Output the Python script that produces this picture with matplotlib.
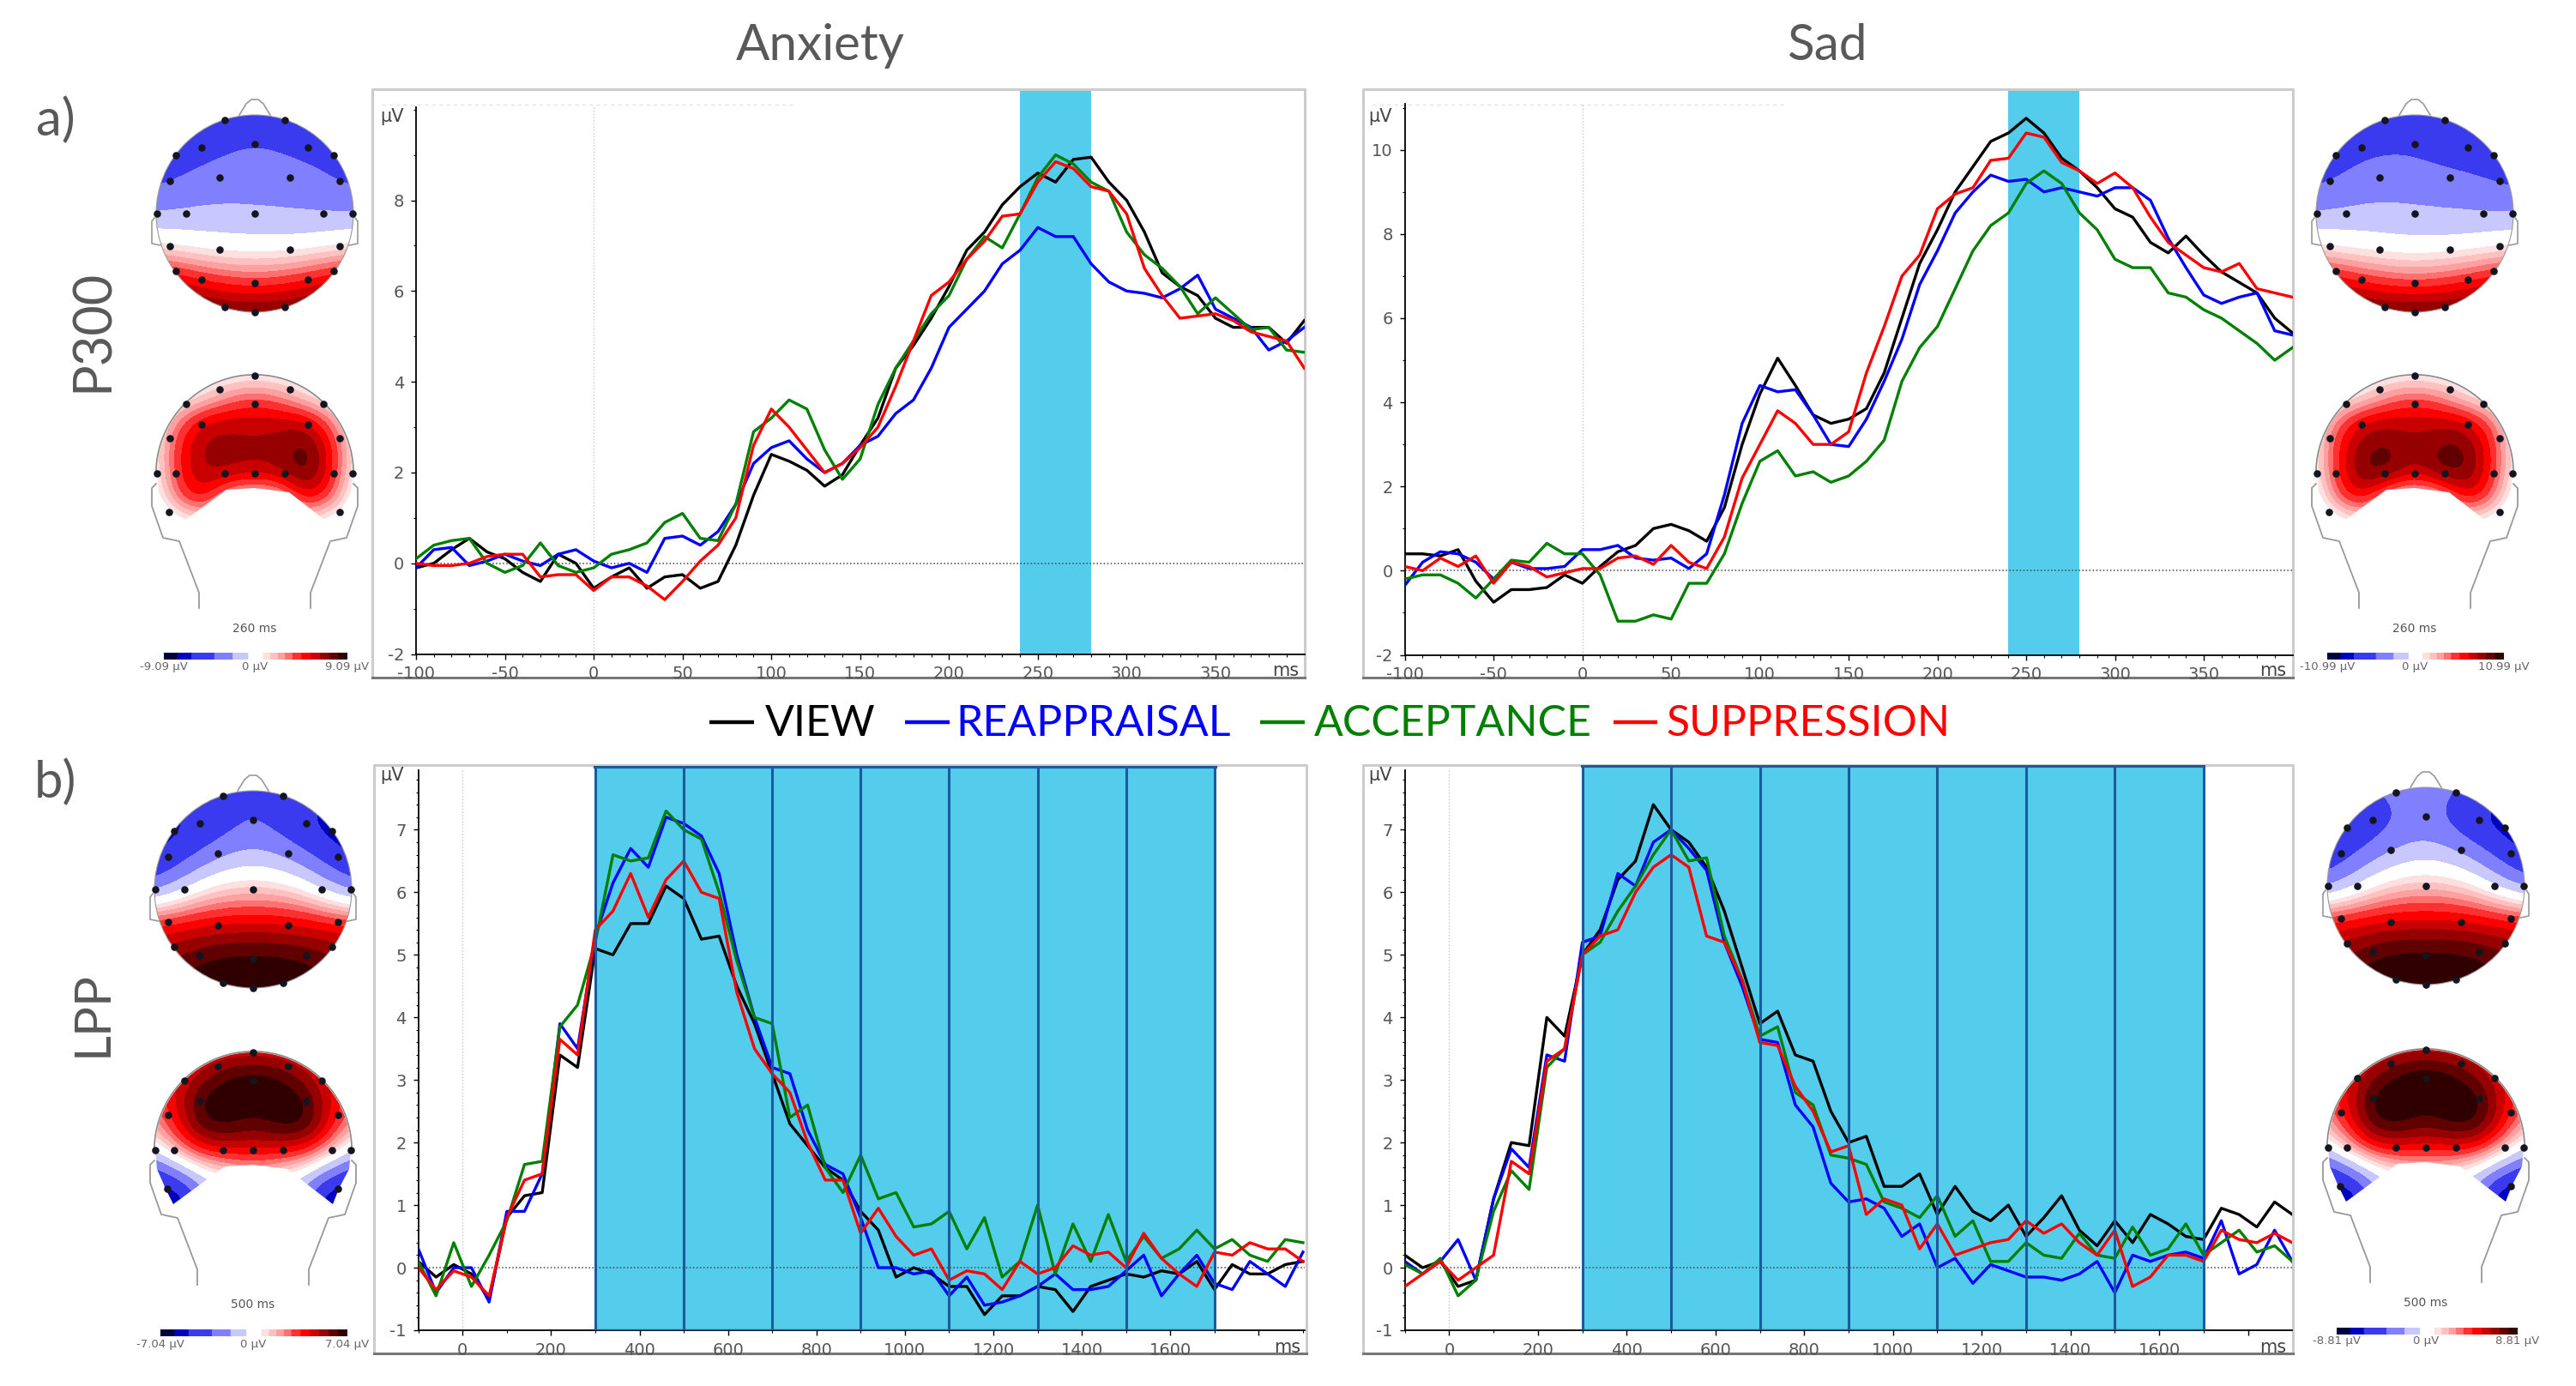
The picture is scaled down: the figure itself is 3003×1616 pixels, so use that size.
import matplotlib
matplotlib.use("Agg")
import matplotlib.pyplot as plt
from matplotlib import patches
from matplotlib.colors import ListedColormap, BoundaryNorm
import numpy as np

W, H = 3003, 1616
plt.rcParams['font.family'] = ['Lato', 'DejaVu Sans']
plt.rcParams['axes.unicode_minus'] = False

# --- data ---
SERIES_COLORS = ["black", "#0000ff", "#008000", "#ff0000"]
SERIES_NAMES = ["VIEW", "REAPPRAISAL", "ACCEPTANCE", "SUPPRESSION"]
SHADE = "#54cdec"
SHADE_EDGE = "#1c5a9c"

t_p300 = list(range(-100, 401, 10))
t_lpp = list(range(-100, 1901, 40))

anx_view = [-.1,0,.3,.55,.25,.1,-.2,-.4,.2,0,-.55,-.3,-.1,-.55,-.3,-.25,-.55,-.4,.4,1.5,2.4,2.25,2.05,1.7,1.95,2.6,3.2,4.3,4.8,5.4,6.1,6.9,7.3,7.9,8.3,8.6,8.4,8.9,8.95,8.4,8.0,7.3,6.4,6.1,5.9,5.4,5.2,5.2,5.2,4.85,5.35]
anx_reap = [-.1,.3,.35,-.05,.05,.2,.05,-.05,.2,.3,.05,-.1,0,-.2,.55,.6,.4,.7,1.3,2.2,2.55,2.7,2.3,2.0,2.2,2.6,2.8,3.3,3.6,4.3,5.2,5.6,6.0,6.6,6.9,7.4,7.2,7.2,6.6,6.2,6.0,5.95,5.85,6.05,6.35,5.6,5.4,5.2,4.7,4.9,5.2]
anx_acc = [.1,.4,.5,.55,0,-.2,-.05,.45,-.05,-.2,-.1,.2,.3,.45,.9,1.1,.55,.5,1.3,2.9,3.2,3.6,3.4,2.5,1.85,2.3,3.5,4.3,4.9,5.5,5.9,6.7,7.2,6.95,7.7,8.5,9.0,8.8,8.4,8.2,7.3,6.8,6.5,6.1,5.5,5.85,5.5,5.15,5.2,4.7,4.65]
anx_sup = [0,-.05,-.05,0,.15,.2,.2,-.3,-.25,-.25,-.6,-.3,-.3,-.5,-.8,-.4,.05,.4,1.0,2.6,3.4,3.0,2.5,2.0,2.2,2.55,3.0,3.9,4.9,5.9,6.2,6.7,7.1,7.65,7.7,8.4,8.85,8.7,8.3,8.2,7.7,6.5,5.9,5.4,5.45,5.5,5.35,5.1,5.0,4.9,4.3]

sad_view = [.4,.4,.35,.5,-.25,-.75,-.45,-.45,-.4,-.1,-.3,.1,.45,.6,1.0,1.1,.95,.7,1.5,3.0,4.2,5.05,4.4,3.7,3.5,3.6,3.85,4.7,6.0,7.3,8.1,9.0,9.6,10.2,10.4,10.75,10.4,9.8,9.5,9.1,8.6,8.4,7.8,7.55,7.95,7.5,7.1,6.85,6.6,6.0,5.65]
sad_reap = [-.35,.2,.45,.4,.2,-.2,.2,.05,.05,.1,.5,.5,.6,.3,.25,.3,.05,.4,1.8,3.5,4.4,4.25,4.3,3.7,3.0,2.95,3.6,4.5,5.5,6.8,7.6,8.5,9.0,9.4,9.25,9.3,9.0,9.1,9.0,8.9,9.1,9.1,8.8,7.9,7.2,6.55,6.35,6.5,6.6,5.7,5.6]
sad_acc = [-.2,-.1,-.1,-.3,-.65,-.2,.25,.2,.65,.4,.4,-.1,-1.2,-1.2,-1.05,-1.15,-.3,-.3,.4,1.6,2.6,2.85,2.25,2.35,2.1,2.25,2.6,3.1,4.5,5.3,5.8,6.7,7.6,8.2,8.5,9.2,9.5,9.2,8.5,8.1,7.4,7.2,7.2,6.6,6.5,6.2,6.0,5.7,5.4,5.0,5.3]
sad_sup = [.1,0,.3,.1,.35,-.3,.2,.1,-.15,-.05,.05,.05,.3,.35,.15,.6,.2,.05,.8,2.2,3.0,3.8,3.5,3.0,3.0,3.3,4.7,5.8,7.0,7.5,8.6,8.95,9.1,9.75,9.8,10.4,10.3,9.7,9.5,9.2,9.45,9.1,8.4,7.8,7.5,7.2,7.1,7.3,6.7,6.6,6.5]

lpp_anx_view = [.1,-.15,.05,-.1,-.5,.8,1.15,1.2,3.4,3.2,5.1,5.0,5.5,5.5,6.1,5.9,5.25,5.3,4.5,3.9,3.1,2.3,1.95,1.6,1.4,.9,.6,-.15,0,-.1,-.3,-.3,-.75,-.45,-.45,-.3,-.35,-.7,-.3,-.2,-.1,-.15,-.05,-.1,.1,-.35,.05,-.1,-.1,.05,.1]
lpp_anx_reap = [.3,-.4,0,0,-.55,.9,.9,1.5,3.9,3.5,5.3,6.15,6.7,6.4,7.2,7.1,6.9,6.3,5.0,4.0,3.2,3.1,2.2,1.65,1.5,.8,0,0,-.1,-.05,-.45,-.15,-.6,-.55,-.45,-.3,-.1,-.35,-.35,-.3,-.05,.2,-.45,-.1,.2,-.25,-.35,.1,-.1,-.3,.25]
lpp_anx_acc = [.1,-.45,.4,-.3,.2,.75,1.65,1.7,3.85,4.2,5.2,6.6,6.5,6.55,7.3,7.0,6.85,6.0,4.9,4.0,3.9,2.4,2.6,1.6,1.2,1.8,1.1,1.2,.65,.7,.9,.3,.8,-.15,.1,1.0,-.1,.7,.1,.85,.1,.5,.15,.3,.6,.3,.45,.2,.1,.45,.4]
lpp_anx_sup = [0,-.35,-.05,-.15,-.45,.8,1.4,1.5,3.65,3.4,5.4,5.7,6.3,5.6,6.2,6.5,6.0,5.9,4.4,3.5,3.1,2.8,2.0,1.4,1.4,.55,.95,.5,.2,.3,-.2,-.05,-.1,-.35,.1,-.1,0,.35,.2,.25,0,.55,.15,-.1,-.3,.25,.2,.4,.3,.3,.1]

lpp_sad_view = [.2,0,.1,-.3,-.2,1.1,2.0,1.95,4.0,3.7,5.0,5.4,6.2,6.5,7.4,7.0,6.8,6.4,5.7,4.8,3.9,4.1,3.4,3.3,2.5,2.0,2.1,1.3,1.3,1.5,.85,1.3,.9,.75,1.0,.5,.8,1.15,.6,.35,.75,.4,.85,.7,.5,.45,.95,.85,.65,1.05,.85]
lpp_sad_reap = [.1,-.1,.1,.45,-.2,1.1,1.9,1.6,3.4,3.3,5.2,5.3,6.3,6.1,6.8,7.0,6.7,6.35,5.2,4.5,3.65,3.6,2.6,2.25,1.35,1.05,1.1,.95,.5,.7,0,.15,-.25,.05,-.05,-.15,-.15,-.2,-.1,.1,-.4,.2,.1,.2,.25,.15,.75,-.1,.05,.6,.1]
lpp_sad_acc = [.05,-.1,.15,-.45,-.2,.9,1.55,1.25,3.2,3.5,5.0,5.2,5.7,6.1,6.6,7.0,6.5,6.55,5.3,4.6,3.7,3.85,2.8,2.6,1.8,1.75,1.65,1.05,.95,.8,1.15,.5,.75,.1,.1,.4,.2,.15,.55,.2,.15,.65,.2,.3,.7,.2,.4,.6,.25,.35,.1]
lpp_sad_sup = [-.3,-.1,.1,-.2,0,.2,1.7,1.5,3.3,3.5,5.0,5.3,5.4,6.0,6.4,6.6,6.4,5.3,5.2,4.6,3.6,3.55,2.9,2.5,1.85,1.95,.85,1.1,1.0,.3,.7,.2,.3,.4,.45,.75,.55,.7,.4,.2,.6,-.3,-.15,.2,.2,.1,.6,.45,.4,.55,.4]

p300_window = (240, 280)
lpp_edges = [300, 500, 700, 900, 1100, 1300, 1500, 1700]

p300_xticks = [-100, -50, 0, 50, 100, 150, 200, 250, 300, 350]
lpp_xticks = [0, 200, 400, 600, 800, 1000, 1200, 1400, 1600]

# scalp values, scaled to the colour bar (-1 .. 1), front to back
top_a1 = [[-.55,-.55,-.55,-.55,-.55],[-.55,-.55,-.42,-.55,-.55],[-.55,-.36,-.3,-.33,-.55],[-.24,-.2,-.25,-.26,-.24],[.1,0,0,0,.1],[.7,.48,.36,.48,.7],[.95,.9,.85,.9,.95]]
top_a2 = [[-.55,-.55,-.55,-.6,-.6],[-.55,-.5,-.48,-.72,-.6],[-.55,-.36,-.3,-.33,-.55],[-.24,-.18,-.25,-.26,-.24],[.08,0,-.02,0,.08],[.65,.45,.33,.45,.65],[.95,.9,.88,.9,.95]]
top_b1 = [[-.6,-.5,-.42,-.55,-.75],[-.85,-.72,-.38,-.72,-.9],[-.8,-.35,-.12,-.35,-.8],[-.4,.12,.2,.12,-.4],[.5,.58,.6,.58,.5],[.7,.92,.95,.92,.75],[.9,1,1,1,.9]]
top_b2 = [[-.6,-.4,-.3,-.5,-.7],[-.85,-.6,-.3,-.75,-.92],[-.7,-.3,-.1,-.3,-.8],[-.4,.12,.22,.12,-.4],[.5,.58,.6,.58,.5],[.7,.92,.95,.92,.75],[.9,1,1,1,.9]]
back_a1 = [[0,0,0,0,0,0,0,0,0],[0,0,.1,.3,.4,.3,.1,0,0],[0,.35,.65,.68,.68,.68,.68,.35,0],[0,.5,.75,.75,.72,.75,.9,.55,0],[-.02,.5,.72,.72,.68,.72,.9,.55,-.02],[-.1,.4,.6,.1,0,.1,.6,.4,-.1],[-.25,-.1,0,0,0,0,0,-.1,-.2]]
back_a2 = [[0,0,0,0,0,0,0,0,0],[0,0,.1,.3,.4,.3,.1,0,0],[0,.38,.65,.68,.68,.68,.65,.38,0],[0,.52,.8,.85,.7,.85,.85,.52,0],[-.02,.52,.85,.85,.65,.85,.85,.52,-.02],[-.12,.4,.6,.1,0,.1,.6,.4,-.12],[-.25,-.1,0,0,0,0,0,-.1,-.25]]
back_b1 = [[.5,.5,.5,.55,.55,.55,.5,.5,.5],[.5,.55,.72,.9,.95,.9,.72,.55,.5],[.4,.6,.95,1,1,1,.95,.6,.4],[.2,.55,.92,.95,.85,.95,.97,.6,.2],[-.1,.25,.55,.6,.6,.6,.55,.25,-.1],[-.7,-.45,-.1,.05,.15,.05,-.1,-.45,-.7],[-1,-.95,-.4,0,0,0,-.4,-.95,-1]]
back_b2 = [[.5,.5,.5,.55,.6,.55,.5,.5,.5],[.5,.55,.75,.92,.97,.92,.75,.55,.5],[.4,.62,.97,1,1,1,.97,.62,.4],[.2,.55,.95,.97,.85,.97,.97,.6,.2],[-.1,.25,.55,.6,.55,.6,.55,.25,-.1],[-.7,-.45,-.1,.05,.12,.05,-.1,-.45,-.7],[-1,-.95,-.4,0,0,0,-.4,-.95,-1]]

# electrode sites relative to the head centre, pixels
top_sites = [(-35,-109),(35,-109),(-62,-77),(0,-81),(62,-77),(-92,-68),(92,-68),(-41,-42),(41,-42),(-99,-38),(99,-38),(-114,0),(-80,0),(0,0),(80,0),(114,0),(-99,38),(-41,42),(41,42),(99,38),(-92,67),(92,67),(-62,77),(0,81),(62,77),(-35,109),(35,109),(0,115)]
back_sites = [(0,-114),(-41,-98),(41,-98),(-80,-81),(80,-81),(-62,-57),(62,-57),(-99,-41),(99,-41),(-114,0),(114,0),(-92,0),(92,0),(-35,0),(35,0),(0,0),(0,-81),(-100,45),(99,45)]

levels = [-1.01, -.85, -.7, -.45, -.25, -.08, .08, .16, .24, .32, .4, .5, .6, .7, .8, .9, 1.01]
level_colors = ["#00003c", "#0000c0", "#3a3aee", "#8080ff", "#c8c8ff", "#ffffff",
                "#ffe0e0", "#ffc0c0", "#ffa0a0", "#ff7070", "#ff3030", "#ff0000",
                "#c80000", "#960000", "#600000", "#300000"]
bwr_map = ListedColormap(level_colors)
norm = BoundaryNorm(levels, bwr_map.N)


def add_chart(rect, xlim, ylim, top_axis, t, curves, xticks, minor_x, minor_y, major_y, spans):
    x0, y0, x1, y1 = rect
    ax = fig.add_axes([x0 / W, 1 - y1 / H, (x1 - x0) / W, (y1 - y0) / H], facecolor="none", zorder=2)
    ax.set_xlim(*xlim)
    ax.set_ylim(*ylim)
    for a, b in spans:
        ax.axvspan(a, b, color=SHADE, lw=0, zorder=1)
    ax.axvline(0, color="#c8c8c8", lw=1, ls=":", ymax=(top_axis - ylim[0]) / (ylim[1] - ylim[0]), zorder=2)
    ax.axhline(0, color="#444444", lw=1.1, ls=":", zorder=2)
    for vals, c in zip(curves, SERIES_COLORS):
        ax.plot(t, vals, color=c, lw=2.4, zorder=3, solid_joinstyle="round")
    for s in ["top", "right"]:
        ax.spines[s].set_visible(False)
    ax.spines["left"].set_bounds(ylim[0], top_axis)
    ax.spines["left"].set_linewidth(1.3)
    ax.spines["bottom"].set_linewidth(1.3)
    ax.set_xticks(xticks)
    ax.set_yticks(major_y)
    ax.set_xticks(np.arange(xlim[0] - xlim[0] % minor_x, xlim[1], minor_x), minor=True)
    ax.set_yticks(np.arange(ylim[0], top_axis, minor_y), minor=True)
    ax.tick_params(axis="both", which="major", length=4, width=1, labelsize=14, labelcolor="#555555", pad=6,
                   labelfontfamily="DejaVu Sans")
    ax.tick_params(axis="both", which="minor", length=2.5, width=.8)
    return ax


def draw_frame(rect):
    x0, y0, x1, y1 = rect
    bg.plot([x0, x0, x1, x1], [y1, y0, y0, y1], color="#cccccc", lw=2.2)
    bg.plot([x0, x1], [y1, y1], color="#777777", lw=2.2)


def paint(grid, cx, cy, half_w, top, bottom, clip):
    g = np.array(grid)
    dx = 2 * half_w / (g.shape[1] - 1)
    dy = (bottom - top) / (g.shape[0] - 1)
    im = bg.imshow(g, cmap=bwr_map, norm=norm, interpolation="bicubic", interpolation_stage="data", aspect="auto",
                   extent=(cx - half_w - dx / 2, cx + half_w + dx / 2, cy + bottom + dy / 2, cy + top - dy / 2), zorder=1)
    clip.set_transform(bg.transData)
    im.set_clip_path(clip)


def draw_top_map(cx, cy, grid):
    paint(grid, cx, cy, 115, -115, 115, patches.Circle((cx, cy), 115))
    head = patches.Circle((cx, cy), 115, fill=False, ec="#999999", lw=.8, zorder=2)
    bg.add_patch(head)
    nose_x, nose_y = zip(*[(-18,-115),(-10,-128),(-4,-133),(4,-133),(10,-128),(18,-115)])
    bg.plot(cx + np.array(nose_x), cy + np.array(nose_y), color="#999999", lw=1.2, zorder=2)
    ear_x, ear_y = zip(*[(-117,5),(-120,9),(-120,35),(-110,37)])
    for side in (-1, 1):
        bg.plot(cx + side * np.array(ear_x), cy + np.array(ear_y), color="#999999", lw=1.2, zorder=2)
    sx, sy = zip(*top_sites)
    bg.scatter(cx + np.array(sx), cy + np.array(sy), s=38, color="#151520", marker="o", lw=0, zorder=3)


def draw_back_map(cx, cy, grid):
    ang = np.linspace(np.pi, 2 * np.pi, 60)
    arc = [(114 * np.cos(a), 114 * np.sin(a)) for a in ang]
    lower = [(112,22),(100,45),(93,63),(40,22),(0,17),(-33,19),(-93,63),(-102,45),(-112,22)]
    pts = [(cx + a, cy + b) for a, b in arc + lower]
    paint(grid, cx, cy, 120, -120, 60, patches.Polygon(pts, closed=True))
    ox, oy = zip(*arc)
    bg.plot(cx + np.array(ox) * 1.01, cy + np.array(oy) * 1.01, color="#888888", lw=1.2, zorder=2)
    neck_x, neck_y = zip(*[(-115,12),(-120,17),(-120,38),(-107,75),(-88,79),(-65,139),(-65,157)])
    for side in (-1, 1):
        bg.plot(cx + side * np.array(neck_x), cy + np.array(neck_y), color="#999999", lw=1.3, zorder=2)
    sx, sy = zip(*back_sites)
    bg.scatter(cx + np.array(sx), cy + np.array(sy), s=38, color="#151520", marker="o", lw=0, zorder=3)


def draw_scale(x0, x1, y, label_y, time_y, cx, label, time_label):
    g = np.linspace(-1, 1, 200).reshape(1, -1)
    bg.imshow(g, cmap=bwr_map, norm=norm, aspect="auto", extent=(x0, x1, y + 4, y - 4), zorder=1)
    bg.text(cx, time_y, time_label, color="#555555", fontsize=10, ha="center", va="center", family="DejaVu Sans")
    bg.text(x0, label_y, "-" + label + " µV", color="#666666", fontsize=9.5, ha="center", va="center", family="DejaVu Sans")
    bg.text(cx, label_y, "0 µV", color="#666666", fontsize=9.5, ha="center", va="center", family="DejaVu Sans")
    bg.text(x1, label_y, label + " µV", color="#666666", fontsize=9.5, ha="center", va="center", family="DejaVu Sans")


fig = plt.figure(figsize=(W / 100, H / 100), dpi=100, facecolor="white")
bg = fig.add_axes([0, 0, 1, 1], zorder=0)
bg.axis("off")

# --- frames ---
frames = [(434, 104, 1521, 790), (1589, 104, 2673, 790), (436, 892, 1523, 1578), (1589, 892, 2673, 1578)]
for r in frames:
    draw_frame(r)
for x0, x1 in [(445, 925), (1600, 2080)]:
    bg.plot([x0, x1], [122, 122], color="#e6e2ea", lw=1, ls=(0, (3, 3)))

# --- ERP charts ---
add_chart((485, 106, 1520.5, 762.6), (-100, 400), (-2, 10.41), 10.06, t_p300,
          [anx_view, anx_reap, anx_acc, anx_sup], p300_xticks, 10, 1, [-2, 0, 2, 4, 6, 8], [p300_window])
add_chart((1637.7, 106, 2672.5, 763.5), (-100, 400), (-2, 11.4), 11.1, t_p300,
          [sad_view, sad_reap, sad_acc, sad_sup], p300_xticks, 10, 1, [-2, 0, 2, 4, 6, 8, 10], [p300_window])
lpp_spans = [(lpp_edges[0], lpp_edges[-1])]
ax_c = add_chart((487.7, 893, 1520.5, 1551), (-96, 1903), (-1, 8.02), 7.95, t_lpp,
                 [lpp_anx_view, lpp_anx_reap, lpp_anx_acc, lpp_anx_sup], lpp_xticks + [1800], 100, .2, list(range(-1, 8)), lpp_spans)
ax_d = add_chart((1637.7, 891.5, 2671.8, 1551), (-100, 1899), (-1, 8.04), 7.95, t_lpp,
                 [lpp_sad_view, lpp_sad_reap, lpp_sad_acc, lpp_sad_sup], lpp_xticks + [1800], 100, .2, list(range(-1, 8)), lpp_spans)
for ax in (ax_c, ax_d):
    ax.set_xticklabels([str(v) for v in lpp_xticks] + [""])
    for e in lpp_edges:
        ax.axvline(e, color=SHADE_EDGE, lw=2.2, zorder=4)
    ax.axhline(ax.get_ylim()[1] - .02, xmin=(300 - ax.get_xlim()[0]) / 2000, xmax=(1700 - ax.get_xlim()[0]) / 2000, color=SHADE_EDGE, lw=3, zorder=4)
    ax.axhline(-1, xmin=(300 - ax.get_xlim()[0]) / 2000, xmax=(1700 - ax.get_xlim()[0]) / 2000, color=SHADE_EDGE, lw=2.5, zorder=4)

for x, y in [(457, 136), (1609, 136), (457, 904), (1609, 904)]:
    bg.text(x, y, "µV", color="#444444", fontsize=15, ha="center", va="center", family="DejaVu Sans", zorder=5)
for x, y in [(1499, 782), (2650, 782), (1501, 1571), (2650, 1571)]:
    bg.text(x, y, "ms", color="#444444", fontsize=15, ha="center", va="center", family="DejaVu Sans", zorder=5)

# --- scalp maps ---
draw_top_map(297, 249, top_a1)
draw_back_map(297, 552, back_a1)
draw_scale(191, 405, 765, 778, 733, 297, "9.09", "260 ms")
draw_top_map(2815, 249, top_a2)
draw_back_map(2815, 552, back_a2)
draw_scale(2713, 2919, 765, 778, 733, 2815, "10.99", "260 ms")
draw_top_map(295, 1037, top_b1)
draw_back_map(295, 1341, back_b1)
draw_scale(187, 405, 1554, 1567, 1521, 295, "7.04", "500 ms")
draw_top_map(2828, 1033, top_b2)
draw_back_map(2828, 1338, back_b2)
draw_scale(2724, 2935, 1552, 1563, 1519, 2828, "8.81", "500 ms")

# --- headings ---
TEXT_GREY = "#595959"
bg.text(956, 53, "Anxiety", color=TEXT_GREY, fontsize=42, ha="center", va="center")
bg.text(2130, 53, "Sad", color=TEXT_GREY, fontsize=42, ha="center", va="center")
bg.text(65, 140, "a)", color=TEXT_GREY, fontsize=43, ha="center", va="center")
bg.text(65, 912, "b)", color=TEXT_GREY, fontsize=43, ha="center", va="center")
bg.text(108, 385, "P300", color=TEXT_GREY, fontsize=44, rotation=90, ha="center", va="center")
bg.text(108, 1182, "LPP", color=TEXT_GREY, fontsize=42, rotation=90, ha="center", va="center")

# --- legend ---
line_spans = [(827, 879), (1055, 1107), (1469, 1521), (1881, 1932)]
text_starts = [892, 1114, 1532, 1942]
for name, c, (a, b), tx in zip(SERIES_NAMES, SERIES_COLORS, line_spans, text_starts):
    bg.plot([a, b], [842, 842], color=c, lw=3.2, solid_capstyle="butt")
    bg.text(tx, 844, name, color=c, fontsize=36, ha="left", va="center")

bg.set_xlim(0, W)
bg.set_ylim(H, 0)

fig.savefig("out.png", dpi=100)
